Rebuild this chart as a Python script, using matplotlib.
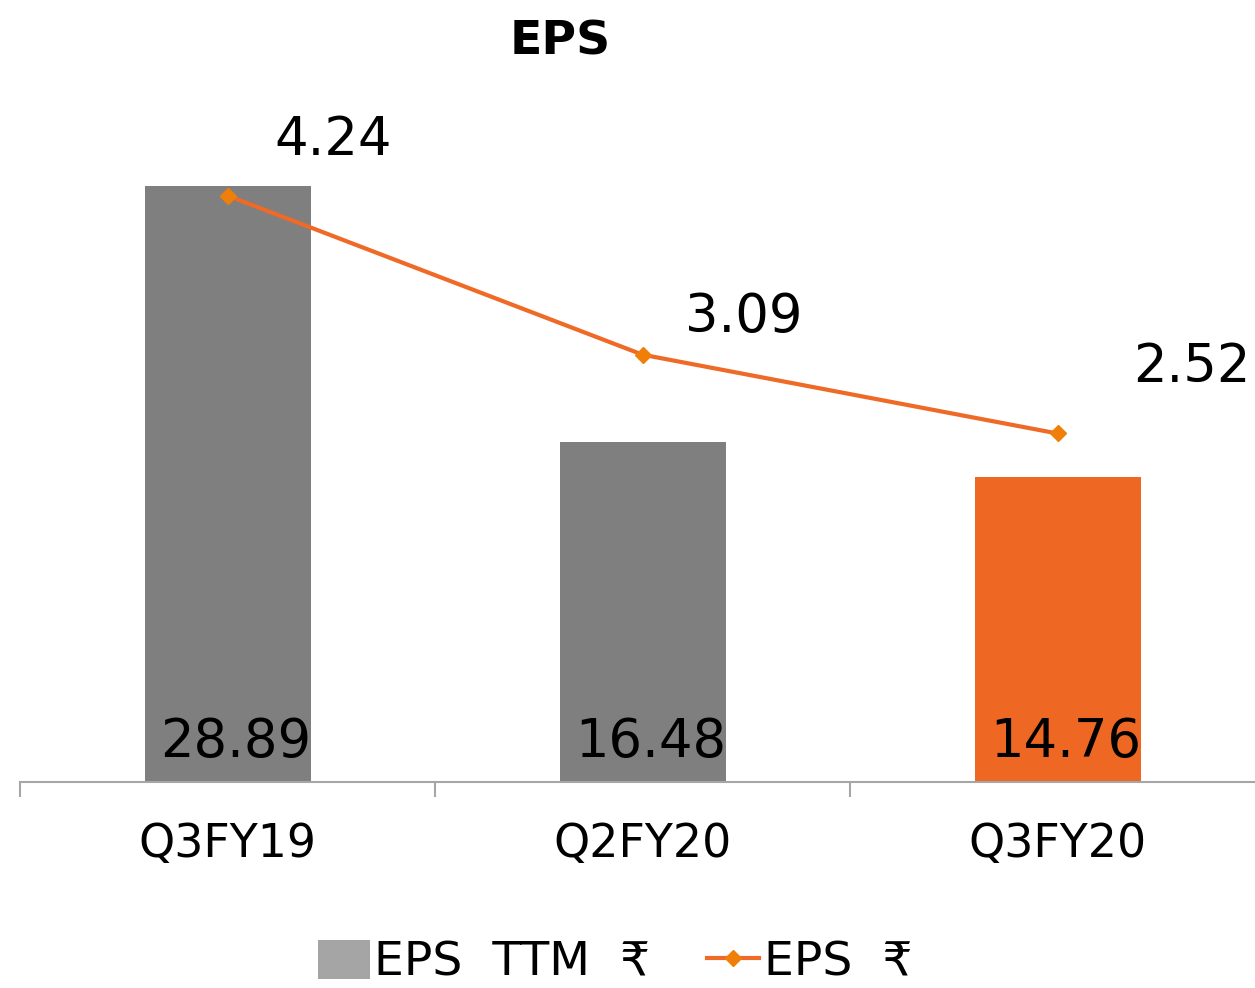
import matplotlib
matplotlib.use('Agg')
import matplotlib.pyplot as plt
from matplotlib.patches import Patch
from matplotlib.lines import Line2D

# data
quarters = ['Q3FY19', 'Q2FY20', 'Q3FY20']
eps_ttm = [28.89, 16.48, 14.76]
eps = [4.24, 3.09, 2.52]

bar_colors = ['#7f7f7f', '#7f7f7f', '#ee6723']
line_color = '#ef6a26'
marker_color = '#f07f09'

plt.rcParams['font.family'] = ['DejaVu Sans']

fig = plt.figure(figsize=(12.55, 9.88), dpi=100)
ax = fig.add_axes([20 / 1255, 206 / 988, 1245 / 1255, 702 / 988])
ax2 = ax.twinx()

x = list(range(len(quarters)))
ax.bar(x, eps_ttm, width=0.4, color=bar_colors, zorder=2)
ax2.plot(x, eps, color=line_color, linewidth=3, marker='D', markersize=8,
         markerfacecolor=marker_color, markeredgecolor=marker_color, zorder=3)

ax.set_xlim(-0.5, 2.5)
ax.set_ylim(0, 34)
ax2.set_ylim(0, 5.076)

# bar value labels sit inside the bars, near the base
for i, v in enumerate(eps_ttm):
    ax.annotate(f'{v:.2f}', xy=(i, 0), xytext=(6, 18), textcoords='offset points',
                ha='center', va='baseline', fontsize=38, color='black')

# line labels, placed by hand like the original
offsets = [(76, 40), (73, 27), (97, 48)]
for i, v in enumerate(eps):
    ax2.annotate(f'{v:.2f}', xy=(i, v), xytext=offsets[i], textcoords='offset points',
                 ha='center', va='center', fontsize=38, color='black',
                 annotation_clip=False)

for a in (ax, ax2):
    for side in ('left', 'right', 'top'):
        a.spines[side].set_visible(False)
    a.set_yticks([])
ax2.spines['bottom'].set_visible(False)
ax.spines['bottom'].set_color('#a6a6a6')
ax.spines['bottom'].set_linewidth(1.5)

ax.set_xticks(x)
ax.set_xticklabels(quarters, fontsize=33)
ax.tick_params(axis='x', which='major', length=0, pad=29)
ax.set_xticks([-0.5, 0.5, 1.5, 2.5], minor=True)
ax.tick_params(axis='x', which='minor', length=11, width=1.5, color='#a6a6a6')

fig.text(560 / 1255, 1 - 42 / 988, 'EPS', ha='center', va='center',
         fontsize=34, fontweight='bold')

handles = [
    Patch(facecolor='#a5a5a5', edgecolor='none'),
    Line2D([0], [0], color=line_color, linewidth=3, marker='D', markersize=8,
           markerfacecolor=marker_color, markeredgecolor=marker_color),
]
fig.legend(handles, ['EPS  TTM  ₹', 'EPS  ₹'], loc='center',
           bbox_to_anchor=(615 / 1255, 1 - 963 / 988), ncol=2, frameon=False,
           fontsize=34, handlelength=1.1, handleheight=0.9, handletextpad=0.1,
           columnspacing=1.2)

fig.savefig('out.png', dpi=100)
